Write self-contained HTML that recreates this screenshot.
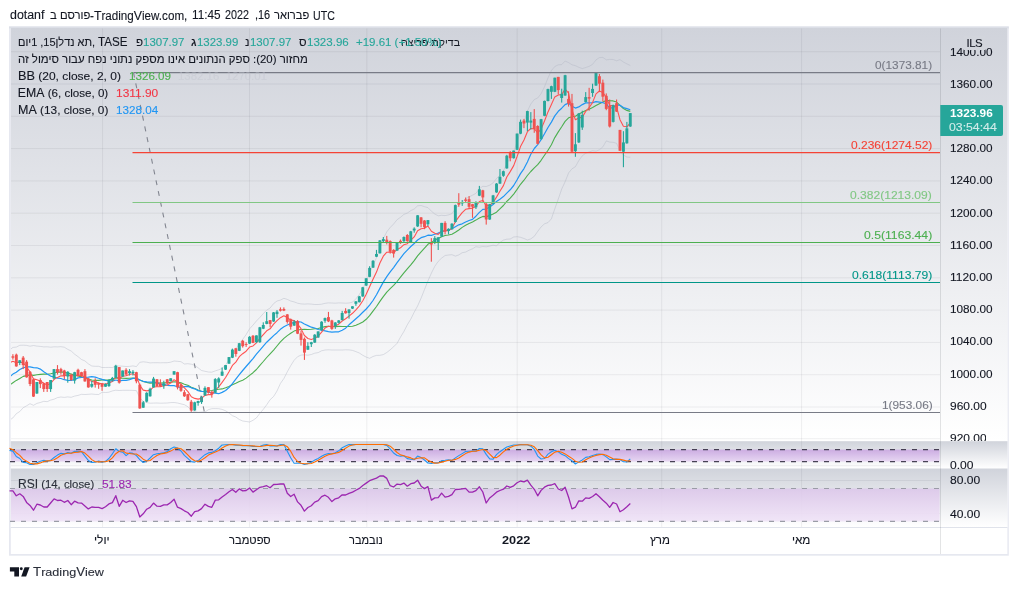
<!DOCTYPE html>
<html lang="he">
<head>
<meta charset="utf-8">
<title>TradingView chart</title>
<style>
html,body{margin:0;padding:0;background:#fff;}
.wrap{position:absolute;left:0;top:0;width:1018px;height:590px;will-change:opacity;}
body{width:1018px;height:590px;position:relative;overflow:hidden;font-family:"Liberation Sans","DejaVu Sans",sans-serif;color:#131722;}
svg{position:absolute;left:0;top:0;}
.t{position:absolute;white-space:nowrap;line-height:1;transform-origin:0 0;-webkit-text-stroke:0.12px currentColor;}
</style>
</head>
<body>
<svg width="1018" height="590" viewBox="0 0 1018 590">
<defs>
<linearGradient id="gm" x1="0" y1="0" x2="0" y2="1"><stop offset="0" stop-color="#d0d3db"/><stop offset="1" stop-color="#ffffff"/></linearGradient>
<linearGradient id="gs" x1="0" y1="0" x2="0" y2="1"><stop offset="0" stop-color="#d0d3db"/><stop offset="1" stop-color="#ffffff"/></linearGradient>
<linearGradient id="gp" x1="0" y1="0" x2="0" y2="1"><stop offset="0" stop-color="#c59be0" stop-opacity="0.75"/><stop offset="1" stop-color="#e3cdf1" stop-opacity="0.75"/></linearGradient>
<linearGradient id="gr" x1="0" y1="0" x2="0" y2="1"><stop offset="0" stop-color="#dcc6ea" stop-opacity="0.85"/><stop offset="1" stop-color="#f0e4f7" stop-opacity="0.95"/></linearGradient>
<clipPath id="cm"><rect x="11" y="28.5" width="929" height="412.5"/></clipPath>
</defs>
<!-- frame -->
<rect x="9" y="26.5" width="999.8" height="529.2" fill="#e6e8f0"/>
<rect x="9" y="26.5" width="999.8" height="2" fill="#dcdfe7"/>
<rect x="10.8" y="28" width="996.6" height="526" fill="#ffffff"/>
<!-- panes -->
<rect x="10.8" y="28" width="996.6" height="413.2" fill="url(#gm)"/>
<rect x="10.8" y="441.2" width="996.6" height="27.3" fill="url(#gs)"/>
<rect x="10.8" y="468.5" width="996.6" height="58.7" fill="url(#gs)"/>
<rect x="10.8" y="527" width="996.6" height="1" fill="#e0e3eb"/>
<rect x="940" y="28.5" width="1" height="525.5" fill="#2a2e39" fill-opacity="0.13"/>
<!-- grid -->
<g stroke="#2a2e39" stroke-opacity="0.07" stroke-width="1">
<path d="M102.6 28.5V527M249.5 28.5V527M366.8 28.5V527M517.2 28.5V527M661.7 28.5V527M801.6 28.5V527"/>
<path d="M11 51.7H940M11 84H940M11 116.3H940M11 148.6H940M11 180.9H940M11 213.2H940M11 245.5H940M11 277.8H940M11 310.1H940M11 342.4H940M11 374.7H940M11 407H940M11 438.7H940"/>
<path d="M11 480.5H940M11 513.5H940M11 465.7H940"/>
</g>
<!-- main pane content -->
<g clip-path="url(#cm)">
<polyline points="9.5,350.2 12.9,347.4 16.3,347.1 19.8,345.3 23.2,345.2 26.6,345.4 30.0,346.2 33.5,345.5 36.9,346.1 40.3,346.4 43.8,346.9 47.2,346.8 50.6,347.2 54.1,346.8 57.5,346.9 60.9,346.7 64.3,347.2 67.8,349.4 71.2,351.0 74.6,354.2 78.1,356.7 81.5,359.5 84.9,360.9 88.3,363.8 91.8,366.0 95.2,366.3 98.6,366.3 102.1,367.5 105.5,367.5 108.9,367.4 112.4,367.6 115.8,366.0 119.2,366.0 122.7,366.2 126.1,366.5 129.5,366.4 132.9,365.9 136.4,366.6 139.8,362.3 143.2,361.8 146.7,362.2 150.1,362.9 153.5,362.7 157.0,362.7 160.4,362.8 163.8,362.7 167.2,362.7 170.7,362.2 174.1,361.0 177.5,361.3 181.0,361.7 184.4,364.0 187.8,363.7 191.3,364.2 194.7,365.4 198.1,367.8 201.5,370.5 205.0,371.3 208.4,372.0 211.8,372.2 215.3,370.9 218.7,369.8 222.1,368.4 225.6,364.9 229.0,359.8 232.4,353.7 235.8,349.4 239.3,343.4 242.7,339.4 246.1,334.6 249.6,328.8 253.0,325.1 256.4,321.0 259.9,317.4 263.3,313.6 266.7,310.1 270.1,308.0 273.6,303.6 277.0,301.0 280.4,300.1 283.9,298.3 287.3,299.4 290.7,301.0 294.1,301.9 297.6,303.2 301.0,303.9 304.4,304.1 307.9,303.9 311.3,304.1 314.7,304.5 318.2,304.5 321.6,304.2 325.0,303.3 328.4,302.9 331.9,303.0 335.3,303.2 338.7,302.9 342.2,303.0 345.6,303.2 349.0,303.0 352.5,302.2 355.9,298.8 359.3,294.5 362.8,288.7 366.2,281.4 369.6,273.0 373.0,265.6 376.5,257.6 379.9,247.5 383.3,238.6 386.8,231.8 390.2,227.5 393.6,224.0 397.1,219.7 400.5,217.3 403.9,214.4 407.3,213.1 410.8,210.6 414.2,209.0 417.6,205.8 421.1,205.5 424.5,206.7 427.9,207.6 431.4,211.2 434.8,214.0 438.2,215.8 441.6,215.3 445.1,215.6 448.5,214.9 451.9,213.7 455.4,208.6 458.8,205.1 462.2,202.2 465.6,198.6 469.1,196.9 472.5,195.2 475.9,193.4 479.4,188.7 482.8,186.3 486.2,186.5 489.7,185.2 493.1,182.9 496.5,178.5 499.9,175.2 503.4,170.9 506.8,163.6 510.2,157.4 513.7,151.3 517.1,142.1 520.5,131.3 524.0,121.9 527.4,111.1 530.8,104.0 534.3,99.5 537.7,98.0 541.1,93.7 544.5,86.8 548.0,77.9 551.4,70.6 554.8,66.5 558.3,64.8 561.7,64.6 565.1,61.0 568.6,62.6 572.0,64.8 575.4,65.7 578.8,67.3 582.3,68.6 585.7,67.5 589.1,66.4 592.6,64.3 596.0,59.9 599.4,57.6 602.9,57.4 606.3,59.8 609.7,59.4 613.1,59.5 616.6,60.8 620.0,59.6 623.4,62.0 626.9,63.9 630.3,65.5" fill="none" stroke="#b4b8c6" stroke-width="1" stroke-opacity="0.45"/>
<polyline points="9.5,420.2 12.9,417.9 16.3,413.7 19.8,411.5 23.2,407.7 26.6,405.8 30.0,403.7 33.5,405.3 36.9,403.4 40.3,402.5 43.8,401.3 47.2,401.7 50.6,400.1 54.1,399.2 57.5,397.6 60.9,397.0 64.3,397.4 67.8,396.9 71.2,397.3 74.6,396.1 78.1,395.4 81.5,394.3 84.9,394.5 88.3,394.3 91.8,394.0 95.2,394.4 98.6,394.5 102.1,392.3 105.5,392.5 108.9,392.2 112.4,390.9 115.8,390.2 119.2,390.5 122.7,390.3 126.1,390.3 129.5,390.3 132.9,390.4 136.4,390.6 139.8,397.7 143.2,401.3 146.7,402.6 150.1,403.2 153.5,403.1 157.0,403.0 160.4,403.2 163.8,403.1 167.2,403.0 170.7,402.6 174.1,402.5 177.5,403.0 181.0,403.9 184.4,404.7 187.8,406.7 191.3,410.2 194.7,411.7 198.1,412.4 201.5,412.1 205.0,412.0 208.4,409.7 211.8,408.7 215.3,408.6 218.7,408.7 222.1,409.4 225.6,410.8 229.0,413.0 232.4,415.7 235.8,417.0 239.3,419.5 242.7,421.0 246.1,421.5 249.6,422.0 253.0,420.3 256.4,417.9 259.9,413.3 263.3,409.3 266.7,404.8 270.1,399.7 273.6,396.5 277.0,391.0 280.4,383.5 283.9,378.5 287.3,371.8 290.7,365.7 294.1,360.3 297.6,356.7 301.0,355.1 304.4,354.8 307.9,355.2 311.3,354.5 314.7,353.2 318.2,352.6 321.6,350.8 325.0,350.0 328.4,349.8 331.9,350.0 335.3,350.0 338.7,350.0 342.2,350.0 345.6,349.8 349.0,349.9 352.5,350.4 355.9,351.6 359.3,353.0 362.8,355.3 366.2,357.1 369.6,358.3 373.0,356.5 376.5,355.4 379.9,355.3 383.3,354.6 386.8,352.5 390.2,349.8 393.6,346.8 397.1,343.3 400.5,337.1 403.9,331.5 407.3,324.8 410.8,319.1 414.2,312.2 417.6,306.0 421.1,298.1 424.5,289.5 427.9,281.0 431.4,273.1 434.8,266.3 438.2,261.4 441.6,258.1 445.1,255.5 448.5,255.0 451.9,254.7 455.4,256.1 458.8,254.9 462.2,252.7 465.6,252.1 469.1,250.2 472.5,248.8 475.9,246.7 479.4,247.2 482.8,246.5 486.2,246.8 489.7,246.1 493.1,245.2 496.5,245.9 499.9,242.5 503.4,240.1 506.8,239.2 510.2,239.0 513.7,237.0 517.1,236.7 520.5,237.3 524.0,238.5 527.4,240.0 530.8,238.9 534.3,236.3 537.7,231.4 541.1,226.9 544.5,223.8 548.0,222.6 551.4,218.8 554.8,208.8 558.3,199.0 561.7,189.1 565.1,181.8 568.6,172.9 572.0,168.8 575.4,166.7 578.8,160.6 582.3,155.8 585.7,153.2 589.1,152.0 592.6,150.7 596.0,151.2 599.4,149.8 602.9,146.8 606.3,140.9 609.7,142.1 613.1,142.3 616.6,143.3 620.0,151.0 623.4,155.1 626.9,157.0 630.3,157.3" fill="none" stroke="#b4b8c6" stroke-width="1" stroke-opacity="0.45"/>
<polyline points="9.5,385.2 12.9,382.7 16.3,380.4 19.8,378.4 23.2,376.4 26.6,375.6 30.0,374.9 33.5,375.4 36.9,374.7 40.3,374.4 43.8,374.1 47.2,374.2 50.6,373.7 54.1,373.0 57.5,372.2 60.9,371.9 64.3,372.3 67.8,373.1 71.2,374.1 74.6,375.1 78.1,376.0 81.5,376.9 84.9,377.7 88.3,379.0 91.8,380.0 95.2,380.4 98.6,380.4 102.1,379.9 105.5,380.0 108.9,379.8 112.4,379.2 115.8,378.1 119.2,378.2 122.7,378.3 126.1,378.4 129.5,378.3 132.9,378.1 136.4,378.6 139.8,380.0 143.2,381.5 146.7,382.4 150.1,383.1 153.5,382.9 157.0,382.9 160.4,383.0 163.8,382.9 167.2,382.8 170.7,382.4 174.1,381.8 177.5,382.1 181.0,382.8 184.4,384.3 187.8,385.2 191.3,387.2 194.7,388.6 198.1,390.1 201.5,391.3 205.0,391.6 208.4,390.8 211.8,390.5 215.3,389.8 218.7,389.2 222.1,388.9 225.6,387.8 229.0,386.4 232.4,384.7 235.8,383.2 239.3,381.5 242.7,380.2 246.1,378.1 249.6,375.4 253.0,372.7 256.4,369.5 259.9,365.3 263.3,361.5 266.7,357.5 270.1,353.8 273.6,350.1 277.0,346.0 280.4,341.8 283.9,338.4 287.3,335.6 290.7,333.3 294.1,331.1 297.6,330.0 301.0,329.5 304.4,329.4 307.9,329.5 311.3,329.3 314.7,328.8 318.2,328.6 321.6,327.5 325.0,326.6 328.4,326.3 331.9,326.5 335.3,326.6 338.7,326.4 342.2,326.5 345.6,326.5 349.0,326.5 352.5,326.3 355.9,325.2 359.3,323.7 362.8,322.0 366.2,319.3 369.6,315.7 373.0,311.1 376.5,306.5 379.9,301.4 383.3,296.6 386.8,292.1 390.2,288.6 393.6,285.4 397.1,281.5 400.5,277.2 403.9,272.9 407.3,268.9 410.8,264.9 414.2,260.6 417.6,255.9 421.1,251.8 424.5,248.1 427.9,244.3 431.4,242.1 434.8,240.1 438.2,238.6 441.6,236.7 445.1,235.5 448.5,235.0 451.9,234.2 455.4,232.3 458.8,230.0 462.2,227.4 465.6,225.3 469.1,223.5 472.5,222.0 475.9,220.1 479.4,218.0 482.8,216.4 486.2,216.6 489.7,215.6 493.1,214.0 496.5,212.2 499.9,208.8 503.4,205.5 506.8,201.4 510.2,198.2 513.7,194.1 517.1,189.4 520.5,184.3 524.0,180.2 527.4,175.5 530.8,171.5 534.3,167.9 537.7,164.7 541.1,160.3 544.5,155.3 548.0,150.3 551.4,144.7 554.8,137.6 558.3,131.9 561.7,126.8 565.1,121.4 568.6,117.8 572.0,116.8 575.4,116.2 578.8,114.0 582.3,112.2 585.7,110.4 589.1,109.2 592.6,107.5 596.0,105.6 599.4,103.7 602.9,102.1 606.3,100.4 609.7,100.7 613.1,100.9 616.6,102.1 620.0,105.3 623.4,108.5 626.9,110.4 630.3,111.4" fill="none" stroke="#4caf50" stroke-width="1.1" stroke-linejoin="round"/>
<polyline points="9.5,377.0 12.9,374.1 16.3,372.2 19.8,369.5 23.2,367.9 26.6,366.8 30.0,366.9 33.5,367.6 36.9,367.8 40.3,369.1 43.8,371.7 47.2,374.0 50.6,376.1 54.1,377.0 57.5,378.1 60.9,378.5 64.3,379.7 67.8,380.3 71.2,380.5 74.6,379.6 78.1,377.9 81.5,377.5 84.9,377.3 88.3,377.1 91.8,376.7 95.2,377.1 98.6,378.3 102.1,379.4 105.5,380.3 108.9,380.7 112.4,381.1 115.8,380.0 119.2,380.8 122.7,380.4 126.1,380.3 129.5,379.6 132.9,378.4 136.4,378.1 139.8,380.0 143.2,381.3 146.7,381.8 150.1,382.2 153.5,382.1 157.0,382.7 160.4,384.3 163.8,384.3 167.2,385.3 170.7,385.6 174.1,385.6 177.5,386.8 181.0,387.5 184.4,386.6 187.8,386.4 191.3,387.8 194.7,388.8 198.1,390.6 201.5,391.4 205.0,391.5 208.4,392.2 211.8,393.0 215.3,393.1 218.7,393.7 222.1,392.4 225.6,390.5 229.0,387.5 232.4,383.6 235.8,379.2 239.3,374.7 242.7,370.5 246.1,366.5 249.6,362.5 253.0,358.7 256.4,354.2 259.9,350.2 263.3,346.1 266.7,342.2 270.1,339.0 273.6,335.6 277.0,332.7 280.4,329.3 283.9,326.8 287.3,325.0 290.7,323.6 294.1,322.4 297.6,321.7 301.0,322.0 304.4,324.0 307.9,325.6 311.3,327.2 314.7,328.0 318.2,329.5 321.6,330.2 325.0,330.8 328.4,331.7 331.9,332.2 335.3,331.9 338.7,331.8 342.2,330.2 345.6,328.2 349.0,324.8 352.5,321.8 355.9,318.7 359.3,315.7 362.8,312.3 366.2,309.0 369.6,305.1 373.0,300.5 376.5,294.7 379.9,288.4 383.3,282.1 386.8,276.7 390.2,271.9 393.6,267.6 397.1,262.7 400.5,258.2 403.9,253.7 407.3,250.1 410.8,246.5 414.2,243.5 417.6,240.0 421.1,237.7 424.5,236.7 427.9,235.2 431.4,235.4 434.8,234.3 438.2,233.1 441.6,231.6 445.1,230.6 448.5,230.0 451.9,228.7 455.4,226.7 458.8,224.8 462.2,223.8 465.6,222.0 469.1,220.5 472.5,219.4 475.9,216.2 479.4,212.4 482.8,209.4 486.2,209.1 489.7,207.0 493.1,204.5 496.5,201.4 499.9,199.2 503.4,196.6 506.8,193.1 510.2,189.8 513.7,185.5 517.1,179.8 520.5,173.6 524.0,168.6 527.4,161.9 530.8,154.3 534.3,148.5 537.7,144.6 541.1,139.6 544.5,133.8 548.0,127.5 551.4,122.1 554.8,115.9 558.3,111.3 561.7,108.2 565.1,104.6 568.6,103.1 572.0,106.2 575.4,108.1 578.8,106.9 582.3,104.6 585.7,102.9 589.1,102.8 592.6,102.7 596.0,101.7 599.4,102.2 602.9,102.7 606.3,103.8 609.7,107.8 613.1,107.9 616.6,104.8 620.0,105.3 623.4,107.6 626.9,108.6 630.3,109.8" fill="none" stroke="#2196f3" stroke-width="1.2" stroke-linejoin="round"/>
<polyline points="9.5,362.7 12.9,361.2 16.3,362.7 19.8,362.0 23.2,362.9 26.6,367.0 30.0,371.9 33.5,378.9 36.9,379.8 40.3,381.0 43.8,383.3 47.2,385.0 50.6,383.5 54.1,379.4 57.5,377.4 60.9,375.8 64.3,375.9 67.8,374.7 71.2,376.2 74.6,375.1 78.1,375.2 81.5,375.4 84.9,377.1 88.3,380.0 91.8,381.2 95.2,382.2 98.6,382.9 102.1,384.0 105.5,384.0 108.9,382.9 112.4,381.5 115.8,377.0 119.2,378.6 122.7,376.3 126.1,375.8 129.5,374.5 132.9,373.7 136.4,375.9 139.8,385.2 143.2,390.1 146.7,390.9 150.1,390.3 153.5,386.9 157.0,386.7 160.4,386.6 163.8,385.7 167.2,385.0 170.7,383.1 174.1,379.7 177.5,381.9 181.0,384.4 184.4,387.8 187.8,391.4 191.3,396.8 194.7,398.4 198.1,399.1 201.5,398.4 205.0,395.4 208.4,394.6 211.8,394.6 215.3,390.1 218.7,386.8 222.1,382.4 225.6,377.5 229.0,371.7 232.4,365.4 235.8,362.1 239.3,356.7 242.7,353.7 246.1,351.2 249.6,347.1 253.0,345.9 256.4,342.9 259.9,338.4 263.3,334.6 266.7,330.8 270.1,328.8 273.6,324.1 277.0,320.6 280.4,317.7 283.9,315.7 287.3,317.5 290.7,320.1 294.1,320.5 297.6,324.2 301.0,328.7 304.4,335.5 307.9,338.5 311.3,339.6 314.7,338.2 318.2,336.2 321.6,332.1 325.0,328.1 328.4,326.2 331.9,327.0 335.3,325.7 338.7,324.2 342.2,321.0 345.6,318.8 349.0,316.1 352.5,313.3 355.9,309.9 359.3,306.0 362.8,300.7 366.2,294.3 369.6,286.8 373.0,279.3 376.5,272.1 379.9,263.0 383.3,256.2 386.8,252.2 390.2,252.0 393.6,252.5 397.1,249.6 400.5,247.8 403.9,244.7 407.3,243.7 410.8,240.1 414.2,236.9 417.6,230.7 421.1,228.7 424.5,228.3 427.9,226.0 431.4,231.3 434.8,233.2 438.2,234.4 441.6,231.1 445.1,231.1 448.5,230.4 451.9,228.5 455.4,221.8 458.8,216.9 462.2,212.7 465.6,209.3 469.1,208.6 472.5,208.1 475.9,206.4 479.4,201.5 482.8,200.4 486.2,205.8 489.7,205.4 493.1,202.5 496.5,197.1 499.9,191.3 503.4,185.6 506.8,177.0 510.2,171.6 513.7,165.6 517.1,156.5 520.5,146.6 524.0,140.0 527.4,131.7 530.8,128.5 534.3,128.7 537.7,133.0 541.1,129.1 544.5,121.0 548.0,111.9 551.4,104.6 554.8,96.9 558.3,94.9 561.7,94.6 565.1,89.1 568.6,93.2 572.0,110.0 575.4,119.8 578.8,118.0 582.3,117.1 585.7,111.4 589.1,107.7 592.6,102.4 596.0,93.9 599.4,91.0 602.9,92.6 606.3,97.3 609.7,105.6 613.1,105.5 616.6,107.2 620.0,119.7 623.4,126.2 626.9,126.8 630.3,122.9" fill="none" stroke="#ff5252" stroke-width="1.1" stroke-linejoin="round"/>
<rect x="8.91" y="348.8" width="1.1" height="9.5" fill="#ef5350"/>
<rect x="8.01" y="352.9" width="2.9" height="4.7" fill="#ef5350"/>
<rect x="12.34" y="354.2" width="1.1" height="5.4" fill="#ef5350"/>
<rect x="11.44" y="356.3" width="2.9" height="1.4" fill="#ef5350"/>
<rect x="15.77" y="353.6" width="1.1" height="13.1" fill="#ef5350"/>
<rect x="14.87" y="354.6" width="2.9" height="11.8" fill="#ef5350"/>
<rect x="19.20" y="360.1" width="1.1" height="5.0" fill="#26a69a"/>
<rect x="18.30" y="360.3" width="2.9" height="2.7" fill="#26a69a"/>
<rect x="22.63" y="356.0" width="1.1" height="13.1" fill="#ef5350"/>
<rect x="21.73" y="357.6" width="2.9" height="7.5" fill="#ef5350"/>
<rect x="26.06" y="360.1" width="1.1" height="17.6" fill="#ef5350"/>
<rect x="25.16" y="361.7" width="2.9" height="15.6" fill="#ef5350"/>
<rect x="29.49" y="371.2" width="1.1" height="14.9" fill="#ef5350"/>
<rect x="28.59" y="371.8" width="2.9" height="12.2" fill="#ef5350"/>
<rect x="32.92" y="378.6" width="1.1" height="18.3" fill="#ef5350"/>
<rect x="32.02" y="379.3" width="2.9" height="17.3" fill="#ef5350"/>
<rect x="36.35" y="382.0" width="1.1" height="11.9" fill="#26a69a"/>
<rect x="35.45" y="382.0" width="2.9" height="11.5" fill="#26a69a"/>
<rect x="39.78" y="378.3" width="1.1" height="9.8" fill="#ef5350"/>
<rect x="38.88" y="380.0" width="2.9" height="4.1" fill="#ef5350"/>
<rect x="43.21" y="382.7" width="1.1" height="9.2" fill="#ef5350"/>
<rect x="42.31" y="383.4" width="2.9" height="5.7" fill="#ef5350"/>
<rect x="46.64" y="382.0" width="1.1" height="9.9" fill="#ef5350"/>
<rect x="45.74" y="382.0" width="2.9" height="7.0" fill="#ef5350"/>
<rect x="50.07" y="380.0" width="1.1" height="11.9" fill="#26a69a"/>
<rect x="49.17" y="380.0" width="2.9" height="9.1" fill="#26a69a"/>
<rect x="53.50" y="369.1" width="1.1" height="10.2" fill="#26a69a"/>
<rect x="52.60" y="369.1" width="2.9" height="9.5" fill="#26a69a"/>
<rect x="56.93" y="365.1" width="1.1" height="9.5" fill="#ef5350"/>
<rect x="56.03" y="369.1" width="2.9" height="3.4" fill="#ef5350"/>
<rect x="60.36" y="367.8" width="1.1" height="6.8" fill="#ef5350"/>
<rect x="59.46" y="369.1" width="2.9" height="2.7" fill="#ef5350"/>
<rect x="63.79" y="369.8" width="1.1" height="9.5" fill="#ef5350"/>
<rect x="62.89" y="370.5" width="2.9" height="5.4" fill="#ef5350"/>
<rect x="67.22" y="371.2" width="1.1" height="11.5" fill="#26a69a"/>
<rect x="66.32" y="371.8" width="2.9" height="4.7" fill="#26a69a"/>
<rect x="70.65" y="373.9" width="1.1" height="6.8" fill="#ef5350"/>
<rect x="69.75" y="374.6" width="2.9" height="5.4" fill="#ef5350"/>
<rect x="74.08" y="371.8" width="1.1" height="11.8" fill="#26a69a"/>
<rect x="73.18" y="372.2" width="2.9" height="8.4" fill="#26a69a"/>
<rect x="77.51" y="368.7" width="1.1" height="7.9" fill="#ef5350"/>
<rect x="76.61" y="369.8" width="2.9" height="5.7" fill="#ef5350"/>
<rect x="80.94" y="371.8" width="1.1" height="5.4" fill="#ef5350"/>
<rect x="80.04" y="372.2" width="2.9" height="3.7" fill="#ef5350"/>
<rect x="84.37" y="369.1" width="1.1" height="12.6" fill="#ef5350"/>
<rect x="83.47" y="371.2" width="2.9" height="10.2" fill="#ef5350"/>
<rect x="87.80" y="377.9" width="1.1" height="9.8" fill="#ef5350"/>
<rect x="86.90" y="378.6" width="2.9" height="8.8" fill="#ef5350"/>
<rect x="91.23" y="380.7" width="1.1" height="7.0" fill="#26a69a"/>
<rect x="90.33" y="384.0" width="2.9" height="2.7" fill="#26a69a"/>
<rect x="94.66" y="378.3" width="1.1" height="9.3" fill="#ef5350"/>
<rect x="93.76" y="380.7" width="2.9" height="4.1" fill="#ef5350"/>
<rect x="98.09" y="382.7" width="1.1" height="6.1" fill="#ef5350"/>
<rect x="97.19" y="383.1" width="2.9" height="1.6" fill="#ef5350"/>
<rect x="101.52" y="383.1" width="1.1" height="7.7" fill="#ef5350"/>
<rect x="100.62" y="383.4" width="2.9" height="3.4" fill="#ef5350"/>
<rect x="104.95" y="383.4" width="1.1" height="3.4" fill="#26a69a"/>
<rect x="104.05" y="384.0" width="2.9" height="2.7" fill="#26a69a"/>
<rect x="108.38" y="379.3" width="1.1" height="7.5" fill="#26a69a"/>
<rect x="107.48" y="380.0" width="2.9" height="6.1" fill="#26a69a"/>
<rect x="111.81" y="376.9" width="1.1" height="4.5" fill="#26a69a"/>
<rect x="110.91" y="377.9" width="2.9" height="2.7" fill="#26a69a"/>
<rect x="115.24" y="364.8" width="1.1" height="13.1" fill="#26a69a"/>
<rect x="114.34" y="365.7" width="2.9" height="12.2" fill="#26a69a"/>
<rect x="118.67" y="367.1" width="1.1" height="16.5" fill="#ef5350"/>
<rect x="117.77" y="367.1" width="2.9" height="15.6" fill="#ef5350"/>
<rect x="122.10" y="370.5" width="1.1" height="6.1" fill="#26a69a"/>
<rect x="121.20" y="370.5" width="2.9" height="6.1" fill="#26a69a"/>
<rect x="125.53" y="368.2" width="1.1" height="7.3" fill="#ef5350"/>
<rect x="124.63" y="369.8" width="2.9" height="4.7" fill="#ef5350"/>
<rect x="128.96" y="369.1" width="1.1" height="6.4" fill="#26a69a"/>
<rect x="128.06" y="371.2" width="2.9" height="2.0" fill="#26a69a"/>
<rect x="132.39" y="370.1" width="1.1" height="5.4" fill="#26a69a"/>
<rect x="131.49" y="371.8" width="2.9" height="1.4" fill="#26a69a"/>
<rect x="135.82" y="371.8" width="1.1" height="11.5" fill="#ef5350"/>
<rect x="134.92" y="372.2" width="2.9" height="9.1" fill="#ef5350"/>
<rect x="139.25" y="383.6" width="1.1" height="25.2" fill="#ef5350"/>
<rect x="138.35" y="384.7" width="2.9" height="23.7" fill="#ef5350"/>
<rect x="142.68" y="401.0" width="1.1" height="6.8" fill="#26a69a"/>
<rect x="141.78" y="402.3" width="2.9" height="5.4" fill="#26a69a"/>
<rect x="146.11" y="392.2" width="1.1" height="10.2" fill="#26a69a"/>
<rect x="145.21" y="392.8" width="2.9" height="8.8" fill="#26a69a"/>
<rect x="149.54" y="387.7" width="1.1" height="8.9" fill="#26a69a"/>
<rect x="148.64" y="388.8" width="2.9" height="7.5" fill="#26a69a"/>
<rect x="152.97" y="376.9" width="1.1" height="10.8" fill="#26a69a"/>
<rect x="152.07" y="378.6" width="2.9" height="8.8" fill="#26a69a"/>
<rect x="156.40" y="379.0" width="1.1" height="7.7" fill="#ef5350"/>
<rect x="155.50" y="379.3" width="2.9" height="6.8" fill="#ef5350"/>
<rect x="159.83" y="379.3" width="1.1" height="7.5" fill="#ef5350"/>
<rect x="158.93" y="383.4" width="2.9" height="3.0" fill="#ef5350"/>
<rect x="163.26" y="380.7" width="1.1" height="8.1" fill="#26a69a"/>
<rect x="162.36" y="383.4" width="2.9" height="2.7" fill="#26a69a"/>
<rect x="166.69" y="379.0" width="1.1" height="5.0" fill="#ef5350"/>
<rect x="165.79" y="379.3" width="2.9" height="4.1" fill="#ef5350"/>
<rect x="170.12" y="378.3" width="1.1" height="3.0" fill="#26a69a"/>
<rect x="169.22" y="378.3" width="2.9" height="3.0" fill="#26a69a"/>
<rect x="173.55" y="371.2" width="1.1" height="3.4" fill="#26a69a"/>
<rect x="172.65" y="371.2" width="2.9" height="3.4" fill="#26a69a"/>
<rect x="176.98" y="371.8" width="1.1" height="17.6" fill="#ef5350"/>
<rect x="176.08" y="372.2" width="2.9" height="15.2" fill="#ef5350"/>
<rect x="180.41" y="383.1" width="1.1" height="8.7" fill="#ef5350"/>
<rect x="179.51" y="384.7" width="2.9" height="6.1" fill="#ef5350"/>
<rect x="183.84" y="390.1" width="1.1" height="6.8" fill="#ef5350"/>
<rect x="182.94" y="392.2" width="2.9" height="4.1" fill="#ef5350"/>
<rect x="187.27" y="393.9" width="1.1" height="6.8" fill="#ef5350"/>
<rect x="186.37" y="394.2" width="2.9" height="6.1" fill="#ef5350"/>
<rect x="190.70" y="399.9" width="1.1" height="11.9" fill="#ef5350"/>
<rect x="189.80" y="401.7" width="2.9" height="8.8" fill="#ef5350"/>
<rect x="194.13" y="401.7" width="1.1" height="9.1" fill="#26a69a"/>
<rect x="193.23" y="402.3" width="2.9" height="8.1" fill="#26a69a"/>
<rect x="197.56" y="400.7" width="1.1" height="5.0" fill="#26a69a"/>
<rect x="196.66" y="401.0" width="2.9" height="2.0" fill="#26a69a"/>
<rect x="200.99" y="396.0" width="1.1" height="7.9" fill="#26a69a"/>
<rect x="200.09" y="396.7" width="2.9" height="5.4" fill="#26a69a"/>
<rect x="204.42" y="386.3" width="1.1" height="9.5" fill="#26a69a"/>
<rect x="203.52" y="387.9" width="2.9" height="7.5" fill="#26a69a"/>
<rect x="207.85" y="387.2" width="1.1" height="6.4" fill="#ef5350"/>
<rect x="206.95" y="387.2" width="2.9" height="5.4" fill="#ef5350"/>
<rect x="211.28" y="390.6" width="1.1" height="7.1" fill="#ef5350"/>
<rect x="210.38" y="391.7" width="2.9" height="2.7" fill="#ef5350"/>
<rect x="214.71" y="378.1" width="1.1" height="14.9" fill="#26a69a"/>
<rect x="213.81" y="379.1" width="2.9" height="13.6" fill="#26a69a"/>
<rect x="218.14" y="377.3" width="1.1" height="10.6" fill="#26a69a"/>
<rect x="217.24" y="378.4" width="2.9" height="4.1" fill="#26a69a"/>
<rect x="221.57" y="367.5" width="1.1" height="8.4" fill="#26a69a"/>
<rect x="220.67" y="371.6" width="2.9" height="4.1" fill="#26a69a"/>
<rect x="225.00" y="365.1" width="1.1" height="4.9" fill="#26a69a"/>
<rect x="224.10" y="365.1" width="2.9" height="4.5" fill="#26a69a"/>
<rect x="228.43" y="357.1" width="1.1" height="6.6" fill="#26a69a"/>
<rect x="227.53" y="357.1" width="2.9" height="6.6" fill="#26a69a"/>
<rect x="231.86" y="348.6" width="1.1" height="9.5" fill="#26a69a"/>
<rect x="230.96" y="349.6" width="2.9" height="8.1" fill="#26a69a"/>
<rect x="235.29" y="347.9" width="1.1" height="8.8" fill="#ef5350"/>
<rect x="234.39" y="348.3" width="2.9" height="5.7" fill="#ef5350"/>
<rect x="238.72" y="343.2" width="1.1" height="7.9" fill="#26a69a"/>
<rect x="237.82" y="343.2" width="2.9" height="7.6" fill="#26a69a"/>
<rect x="242.15" y="339.9" width="1.1" height="7.7" fill="#ef5350"/>
<rect x="241.25" y="340.8" width="2.9" height="5.4" fill="#ef5350"/>
<rect x="245.58" y="342.2" width="1.1" height="4.7" fill="#ef5350"/>
<rect x="244.68" y="344.0" width="2.9" height="0.9" fill="#ef5350"/>
<rect x="249.01" y="336.1" width="1.1" height="7.9" fill="#26a69a"/>
<rect x="248.11" y="336.8" width="2.9" height="6.8" fill="#26a69a"/>
<rect x="252.44" y="335.0" width="1.1" height="8.1" fill="#ef5350"/>
<rect x="251.54" y="335.8" width="2.9" height="7.1" fill="#ef5350"/>
<rect x="255.87" y="335.4" width="1.1" height="7.5" fill="#26a69a"/>
<rect x="254.97" y="335.4" width="2.9" height="6.8" fill="#26a69a"/>
<rect x="259.30" y="326.9" width="1.1" height="16.0" fill="#26a69a"/>
<rect x="258.40" y="327.3" width="2.9" height="14.9" fill="#26a69a"/>
<rect x="262.73" y="322.3" width="1.1" height="6.8" fill="#26a69a"/>
<rect x="261.83" y="325.0" width="2.9" height="3.7" fill="#26a69a"/>
<rect x="266.16" y="312.0" width="1.1" height="12.2" fill="#26a69a"/>
<rect x="265.26" y="321.2" width="2.9" height="2.7" fill="#26a69a"/>
<rect x="269.59" y="320.1" width="1.1" height="7.2" fill="#ef5350"/>
<rect x="268.69" y="320.1" width="2.9" height="3.8" fill="#ef5350"/>
<rect x="273.02" y="312.0" width="1.1" height="9.9" fill="#26a69a"/>
<rect x="272.12" y="312.4" width="2.9" height="9.1" fill="#26a69a"/>
<rect x="276.45" y="310.1" width="1.1" height="7.7" fill="#26a69a"/>
<rect x="275.55" y="311.7" width="2.9" height="2.4" fill="#26a69a"/>
<rect x="279.88" y="307.4" width="1.1" height="4.1" fill="#ef5350"/>
<rect x="278.98" y="309.3" width="2.9" height="1.4" fill="#ef5350"/>
<rect x="283.31" y="307.4" width="1.1" height="3.7" fill="#ef5350"/>
<rect x="282.41" y="309.0" width="2.9" height="1.6" fill="#ef5350"/>
<rect x="286.74" y="314.1" width="1.1" height="9.5" fill="#ef5350"/>
<rect x="285.84" y="314.4" width="2.9" height="7.5" fill="#ef5350"/>
<rect x="290.17" y="318.5" width="1.1" height="11.1" fill="#ef5350"/>
<rect x="289.27" y="319.2" width="2.9" height="7.5" fill="#ef5350"/>
<rect x="293.60" y="320.1" width="1.1" height="5.8" fill="#26a69a"/>
<rect x="292.70" y="321.5" width="2.9" height="4.1" fill="#26a69a"/>
<rect x="297.03" y="320.1" width="1.1" height="14.0" fill="#ef5350"/>
<rect x="296.13" y="321.2" width="2.9" height="12.5" fill="#ef5350"/>
<rect x="300.46" y="330.7" width="1.1" height="14.9" fill="#ef5350"/>
<rect x="299.56" y="333.4" width="2.9" height="6.5" fill="#ef5350"/>
<rect x="303.89" y="337.5" width="1.1" height="22.4" fill="#ef5350"/>
<rect x="302.99" y="338.8" width="2.9" height="13.8" fill="#ef5350"/>
<rect x="307.32" y="342.2" width="1.1" height="7.7" fill="#26a69a"/>
<rect x="306.42" y="345.9" width="2.9" height="3.8" fill="#26a69a"/>
<rect x="310.75" y="341.8" width="1.1" height="5.2" fill="#26a69a"/>
<rect x="309.85" y="342.2" width="2.9" height="2.0" fill="#26a69a"/>
<rect x="314.18" y="334.1" width="1.1" height="8.8" fill="#26a69a"/>
<rect x="313.28" y="334.7" width="2.9" height="7.9" fill="#26a69a"/>
<rect x="317.61" y="331.4" width="1.1" height="6.4" fill="#26a69a"/>
<rect x="316.71" y="331.4" width="2.9" height="6.1" fill="#26a69a"/>
<rect x="321.04" y="321.2" width="1.1" height="9.5" fill="#26a69a"/>
<rect x="320.14" y="321.7" width="2.9" height="8.5" fill="#26a69a"/>
<rect x="324.47" y="317.6" width="1.1" height="5.2" fill="#26a69a"/>
<rect x="323.57" y="318.1" width="2.9" height="2.7" fill="#26a69a"/>
<rect x="327.90" y="311.9" width="1.1" height="10.2" fill="#ef5350"/>
<rect x="327.00" y="317.1" width="2.9" height="4.3" fill="#ef5350"/>
<rect x="331.33" y="319.8" width="1.1" height="10.0" fill="#ef5350"/>
<rect x="330.43" y="320.4" width="2.9" height="8.5" fill="#ef5350"/>
<rect x="334.76" y="322.1" width="1.1" height="6.8" fill="#26a69a"/>
<rect x="333.86" y="322.5" width="2.9" height="3.7" fill="#26a69a"/>
<rect x="338.19" y="320.1" width="1.1" height="3.4" fill="#26a69a"/>
<rect x="337.29" y="320.4" width="2.9" height="2.4" fill="#26a69a"/>
<rect x="341.62" y="310.9" width="1.1" height="9.5" fill="#26a69a"/>
<rect x="340.72" y="313.0" width="2.9" height="7.1" fill="#26a69a"/>
<rect x="345.05" y="308.2" width="1.1" height="5.4" fill="#ef5350"/>
<rect x="344.15" y="310.9" width="2.9" height="2.4" fill="#ef5350"/>
<rect x="348.48" y="309.2" width="1.1" height="9.5" fill="#26a69a"/>
<rect x="347.58" y="309.5" width="2.9" height="3.5" fill="#26a69a"/>
<rect x="351.91" y="306.3" width="1.1" height="2.7" fill="#26a69a"/>
<rect x="351.01" y="306.3" width="2.9" height="2.3" fill="#26a69a"/>
<rect x="355.34" y="301.1" width="1.1" height="4.7" fill="#26a69a"/>
<rect x="354.44" y="301.4" width="2.9" height="2.4" fill="#26a69a"/>
<rect x="358.77" y="295.9" width="1.1" height="6.5" fill="#26a69a"/>
<rect x="357.87" y="296.4" width="2.9" height="5.8" fill="#26a69a"/>
<rect x="362.20" y="286.9" width="1.1" height="9.9" fill="#26a69a"/>
<rect x="361.30" y="287.3" width="2.9" height="9.1" fill="#26a69a"/>
<rect x="365.63" y="278.1" width="1.1" height="7.9" fill="#26a69a"/>
<rect x="364.73" y="278.3" width="2.9" height="7.2" fill="#26a69a"/>
<rect x="369.06" y="266.2" width="1.1" height="11.0" fill="#26a69a"/>
<rect x="368.16" y="267.9" width="2.9" height="8.9" fill="#26a69a"/>
<rect x="372.49" y="260.1" width="1.1" height="7.9" fill="#26a69a"/>
<rect x="371.59" y="260.8" width="2.9" height="6.8" fill="#26a69a"/>
<rect x="375.92" y="249.9" width="1.1" height="7.2" fill="#26a69a"/>
<rect x="375.02" y="254.0" width="2.9" height="2.7" fill="#26a69a"/>
<rect x="379.35" y="240.0" width="1.1" height="13.6" fill="#26a69a"/>
<rect x="378.45" y="240.4" width="2.9" height="12.9" fill="#26a69a"/>
<rect x="382.78" y="237.0" width="1.1" height="5.2" fill="#26a69a"/>
<rect x="381.88" y="239.1" width="2.9" height="2.0" fill="#26a69a"/>
<rect x="386.21" y="235.9" width="1.1" height="8.5" fill="#ef5350"/>
<rect x="385.31" y="239.7" width="2.9" height="2.4" fill="#ef5350"/>
<rect x="389.64" y="240.4" width="1.1" height="13.2" fill="#ef5350"/>
<rect x="388.74" y="241.1" width="2.9" height="10.6" fill="#ef5350"/>
<rect x="393.07" y="249.2" width="1.1" height="8.4" fill="#ef5350"/>
<rect x="392.17" y="249.9" width="2.9" height="3.7" fill="#ef5350"/>
<rect x="396.50" y="242.2" width="1.1" height="8.7" fill="#26a69a"/>
<rect x="395.60" y="242.5" width="2.9" height="8.1" fill="#26a69a"/>
<rect x="399.93" y="239.5" width="1.1" height="4.3" fill="#ef5350"/>
<rect x="399.03" y="240.8" width="2.9" height="2.3" fill="#ef5350"/>
<rect x="403.36" y="236.4" width="1.1" height="5.8" fill="#26a69a"/>
<rect x="402.46" y="237.0" width="2.9" height="4.1" fill="#26a69a"/>
<rect x="406.79" y="234.1" width="1.1" height="7.7" fill="#ef5350"/>
<rect x="405.89" y="235.0" width="2.9" height="6.1" fill="#ef5350"/>
<rect x="410.22" y="230.9" width="1.1" height="11.8" fill="#26a69a"/>
<rect x="409.32" y="231.3" width="2.9" height="11.1" fill="#26a69a"/>
<rect x="413.65" y="227.3" width="1.1" height="5.4" fill="#26a69a"/>
<rect x="412.75" y="228.6" width="2.9" height="1.9" fill="#26a69a"/>
<rect x="417.08" y="215.1" width="1.1" height="11.8" fill="#26a69a"/>
<rect x="416.18" y="215.3" width="2.9" height="11.1" fill="#26a69a"/>
<rect x="420.51" y="217.0" width="1.1" height="10.3" fill="#ef5350"/>
<rect x="419.61" y="217.4" width="2.9" height="6.4" fill="#ef5350"/>
<rect x="423.94" y="220.1" width="1.1" height="9.1" fill="#ef5350"/>
<rect x="423.04" y="220.5" width="2.9" height="6.8" fill="#ef5350"/>
<rect x="427.37" y="220.1" width="1.1" height="5.8" fill="#26a69a"/>
<rect x="426.47" y="220.1" width="2.9" height="4.1" fill="#26a69a"/>
<rect x="430.80" y="238.1" width="1.1" height="23.6" fill="#ef5350"/>
<rect x="429.90" y="242.5" width="2.9" height="2.0" fill="#ef5350"/>
<rect x="434.23" y="236.1" width="1.1" height="8.0" fill="#26a69a"/>
<rect x="433.33" y="238.1" width="2.9" height="4.7" fill="#26a69a"/>
<rect x="437.66" y="237.3" width="1.1" height="12.7" fill="#26a69a"/>
<rect x="436.76" y="237.3" width="2.9" height="5.6" fill="#26a69a"/>
<rect x="441.09" y="222.9" width="1.1" height="13.9" fill="#26a69a"/>
<rect x="440.19" y="222.9" width="2.9" height="13.6" fill="#26a69a"/>
<rect x="444.52" y="221.2" width="1.1" height="13.2" fill="#ef5350"/>
<rect x="443.62" y="222.9" width="2.9" height="8.1" fill="#ef5350"/>
<rect x="447.95" y="228.3" width="1.1" height="6.1" fill="#26a69a"/>
<rect x="447.05" y="228.8" width="2.9" height="2.2" fill="#26a69a"/>
<rect x="451.38" y="223.2" width="1.1" height="6.4" fill="#26a69a"/>
<rect x="450.48" y="223.7" width="2.9" height="5.6" fill="#26a69a"/>
<rect x="454.81" y="204.6" width="1.1" height="18.0" fill="#26a69a"/>
<rect x="453.91" y="205.1" width="2.9" height="16.9" fill="#26a69a"/>
<rect x="458.24" y="193.2" width="1.1" height="13.6" fill="#ef5350"/>
<rect x="457.34" y="202.2" width="2.9" height="2.4" fill="#ef5350"/>
<rect x="461.67" y="200.0" width="1.1" height="5.9" fill="#26a69a"/>
<rect x="460.77" y="202.2" width="2.9" height="1.2" fill="#26a69a"/>
<rect x="465.10" y="197.5" width="1.1" height="5.4" fill="#ef5350"/>
<rect x="464.20" y="199.5" width="2.9" height="1.4" fill="#ef5350"/>
<rect x="468.53" y="196.1" width="1.1" height="12.4" fill="#ef5350"/>
<rect x="467.63" y="199.2" width="2.9" height="7.6" fill="#ef5350"/>
<rect x="471.96" y="203.9" width="1.1" height="13.9" fill="#ef5350"/>
<rect x="471.06" y="204.2" width="2.9" height="2.5" fill="#ef5350"/>
<rect x="475.39" y="201.2" width="1.1" height="7.8" fill="#26a69a"/>
<rect x="474.49" y="202.2" width="2.9" height="5.1" fill="#26a69a"/>
<rect x="478.82" y="185.9" width="1.1" height="10.2" fill="#26a69a"/>
<rect x="477.92" y="189.3" width="2.9" height="6.4" fill="#26a69a"/>
<rect x="482.25" y="189.8" width="1.1" height="11.9" fill="#ef5350"/>
<rect x="481.35" y="190.3" width="2.9" height="7.1" fill="#ef5350"/>
<rect x="485.68" y="202.9" width="1.1" height="21.7" fill="#ef5350"/>
<rect x="484.78" y="203.9" width="2.9" height="15.6" fill="#ef5350"/>
<rect x="489.11" y="203.9" width="1.1" height="15.9" fill="#26a69a"/>
<rect x="488.21" y="204.2" width="2.9" height="15.3" fill="#26a69a"/>
<rect x="492.54" y="194.9" width="1.1" height="9.3" fill="#26a69a"/>
<rect x="491.64" y="195.4" width="2.9" height="8.5" fill="#26a69a"/>
<rect x="495.97" y="183.1" width="1.1" height="9.7" fill="#26a69a"/>
<rect x="495.07" y="183.6" width="2.9" height="8.8" fill="#26a69a"/>
<rect x="499.40" y="169.0" width="1.1" height="14.9" fill="#26a69a"/>
<rect x="498.50" y="176.8" width="2.9" height="6.8" fill="#26a69a"/>
<rect x="502.83" y="170.7" width="1.1" height="6.1" fill="#26a69a"/>
<rect x="501.93" y="171.2" width="2.9" height="4.6" fill="#26a69a"/>
<rect x="506.26" y="154.8" width="1.1" height="13.9" fill="#26a69a"/>
<rect x="505.36" y="155.7" width="2.9" height="12.7" fill="#26a69a"/>
<rect x="509.69" y="151.1" width="1.1" height="10.2" fill="#ef5350"/>
<rect x="508.79" y="152.8" width="2.9" height="5.4" fill="#ef5350"/>
<rect x="513.12" y="150.6" width="1.1" height="8.0" fill="#26a69a"/>
<rect x="512.22" y="150.6" width="2.9" height="7.6" fill="#26a69a"/>
<rect x="516.55" y="133.6" width="1.1" height="16.4" fill="#26a69a"/>
<rect x="515.65" y="133.6" width="2.9" height="16.1" fill="#26a69a"/>
<rect x="519.98" y="119.6" width="1.1" height="14.6" fill="#26a69a"/>
<rect x="519.08" y="121.8" width="2.9" height="11.9" fill="#26a69a"/>
<rect x="523.41" y="118.9" width="1.1" height="9.2" fill="#ef5350"/>
<rect x="522.51" y="120.6" width="2.9" height="2.9" fill="#ef5350"/>
<rect x="526.84" y="110.8" width="1.1" height="20.3" fill="#26a69a"/>
<rect x="525.94" y="111.1" width="2.9" height="11.5" fill="#26a69a"/>
<rect x="530.27" y="112.1" width="1.1" height="17.3" fill="#26a69a"/>
<rect x="529.37" y="120.6" width="2.9" height="2.0" fill="#26a69a"/>
<rect x="533.70" y="109.1" width="1.1" height="23.7" fill="#ef5350"/>
<rect x="532.80" y="118.9" width="2.9" height="10.2" fill="#ef5350"/>
<rect x="537.13" y="125.2" width="1.1" height="19.2" fill="#ef5350"/>
<rect x="536.23" y="126.0" width="2.9" height="17.8" fill="#ef5350"/>
<rect x="540.56" y="118.9" width="1.1" height="20.7" fill="#26a69a"/>
<rect x="539.66" y="119.2" width="2.9" height="20.0" fill="#26a69a"/>
<rect x="543.99" y="100.6" width="1.1" height="15.6" fill="#26a69a"/>
<rect x="543.09" y="100.9" width="2.9" height="14.9" fill="#26a69a"/>
<rect x="547.42" y="88.7" width="1.1" height="12.7" fill="#26a69a"/>
<rect x="546.52" y="89.1" width="2.9" height="11.9" fill="#26a69a"/>
<rect x="550.85" y="85.7" width="1.1" height="13.2" fill="#26a69a"/>
<rect x="549.95" y="86.2" width="2.9" height="5.6" fill="#26a69a"/>
<rect x="554.28" y="77.7" width="1.1" height="14.4" fill="#26a69a"/>
<rect x="553.38" y="77.7" width="2.9" height="14.1" fill="#26a69a"/>
<rect x="557.71" y="76.9" width="1.1" height="17.3" fill="#ef5350"/>
<rect x="556.81" y="76.9" width="2.9" height="13.2" fill="#ef5350"/>
<rect x="561.14" y="88.7" width="1.1" height="13.9" fill="#26a69a"/>
<rect x="560.24" y="93.8" width="2.9" height="4.2" fill="#26a69a"/>
<rect x="564.57" y="74.8" width="1.1" height="21.0" fill="#26a69a"/>
<rect x="563.67" y="75.2" width="2.9" height="20.3" fill="#26a69a"/>
<rect x="568.00" y="91.3" width="1.1" height="15.3" fill="#ef5350"/>
<rect x="567.10" y="98.9" width="2.9" height="4.7" fill="#ef5350"/>
<rect x="571.43" y="93.9" width="1.1" height="58.4" fill="#ef5350"/>
<rect x="570.53" y="103.2" width="2.9" height="48.5" fill="#ef5350"/>
<rect x="574.86" y="133.1" width="1.1" height="23.7" fill="#26a69a"/>
<rect x="573.96" y="144.3" width="2.9" height="6.9" fill="#26a69a"/>
<rect x="578.29" y="113.1" width="1.1" height="29.9" fill="#26a69a"/>
<rect x="577.39" y="113.5" width="2.9" height="28.9" fill="#26a69a"/>
<rect x="581.72" y="110.7" width="1.1" height="19.2" fill="#26a69a"/>
<rect x="580.82" y="115.0" width="2.9" height="12.5" fill="#26a69a"/>
<rect x="585.15" y="92.1" width="1.1" height="10.3" fill="#26a69a"/>
<rect x="584.25" y="97.1" width="2.9" height="4.9" fill="#26a69a"/>
<rect x="588.58" y="87.8" width="1.1" height="22.9" fill="#ef5350"/>
<rect x="587.68" y="97.1" width="2.9" height="1.5" fill="#ef5350"/>
<rect x="592.01" y="83.7" width="1.1" height="13.1" fill="#26a69a"/>
<rect x="591.11" y="88.9" width="2.9" height="4.1" fill="#26a69a"/>
<rect x="595.44" y="72.8" width="1.1" height="13.1" fill="#26a69a"/>
<rect x="594.54" y="72.8" width="2.9" height="12.7" fill="#26a69a"/>
<rect x="598.87" y="74.0" width="1.1" height="18.1" fill="#ef5350"/>
<rect x="597.97" y="76.2" width="2.9" height="7.5" fill="#ef5350"/>
<rect x="602.30" y="79.6" width="1.1" height="21.8" fill="#ef5350"/>
<rect x="601.40" y="82.7" width="2.9" height="14.0" fill="#ef5350"/>
<rect x="605.73" y="93.4" width="1.1" height="16.8" fill="#ef5350"/>
<rect x="604.83" y="95.8" width="2.9" height="13.1" fill="#ef5350"/>
<rect x="609.16" y="99.5" width="1.1" height="28.0" fill="#ef5350"/>
<rect x="608.26" y="106.0" width="2.9" height="20.5" fill="#ef5350"/>
<rect x="612.59" y="104.6" width="1.1" height="17.9" fill="#26a69a"/>
<rect x="611.69" y="105.1" width="2.9" height="16.8" fill="#26a69a"/>
<rect x="616.02" y="99.5" width="1.1" height="12.5" fill="#ef5350"/>
<rect x="615.12" y="103.2" width="2.9" height="8.4" fill="#ef5350"/>
<rect x="619.45" y="129.9" width="1.1" height="20.9" fill="#ef5350"/>
<rect x="618.55" y="129.9" width="2.9" height="20.9" fill="#ef5350"/>
<rect x="622.88" y="131.2" width="1.1" height="36.0" fill="#26a69a"/>
<rect x="621.98" y="142.4" width="2.9" height="9.3" fill="#26a69a"/>
<rect x="626.31" y="121.9" width="1.1" height="21.8" fill="#26a69a"/>
<rect x="625.41" y="128.4" width="2.9" height="14.9" fill="#26a69a"/>
<rect x="629.74" y="113.1" width="1.1" height="13.8" fill="#26a69a"/>
<rect x="628.84" y="113.1" width="2.9" height="13.4" fill="#26a69a"/>
<!-- fib -->
<line x1="133.5" y1="72.6" x2="204.5" y2="412.5" stroke="#787b86" stroke-width="1.1" stroke-opacity="0.9" stroke-dasharray="5 6"/>
<path d="M133.5 72.6H940" stroke="#787b86" stroke-width="1.1"/>
<path d="M132.5 152.6H940" stroke="#f44336" stroke-width="1.1"/>
<path d="M132.5 202.5H940" stroke="#81c784" stroke-width="1.1"/>
<path d="M132.5 242.5H940" stroke="#4caf50" stroke-width="1.1"/>
<path d="M132.5 282.5H940" stroke="#009688" stroke-width="1.1"/>
<path d="M132.5 412.5H940" stroke="#787b86" stroke-width="1.1"/>
</g>
<!-- stoch -->
<rect x="11" y="449.6" width="928.6" height="12" fill="url(#gp)"/>
<path d="M10 449.6H939.6M10 461.6H939.6" stroke="#464054" stroke-width="1.1" stroke-dasharray="5 6"/>
<polyline points="9.5,450.4 12.9,451.1 16.3,456.5 19.8,458.5 23.2,462.4 26.6,462.7 30.0,464.5 33.5,464.5 36.9,462.8 40.3,461.3 43.8,460.4 47.2,461.1 50.6,460.4 54.1,457.5 57.5,455.1 60.9,453.2 64.3,453.9 67.8,452.5 71.2,453.3 74.6,451.2 78.1,451.6 81.5,451.6 84.9,456.1 88.3,460.4 91.8,462.4 95.2,462.2 98.6,461.1 102.1,462.1 105.5,461.4 108.9,458.5 112.4,453.8 115.8,448.8 119.2,451.5 122.7,452.2 126.1,455.6 129.5,452.9 132.9,453.4 136.4,455.6 139.8,459.6 143.2,462.5 146.7,461.1 150.1,458.0 153.5,454.7 157.0,453.7 160.4,453.4 163.8,452.9 167.2,451.5 170.7,448.8 174.1,447.0 177.5,448.1 181.0,451.0 184.4,455.4 187.8,458.4 191.3,461.6 194.7,462.1 198.1,460.6 201.5,457.7 205.0,454.7 208.4,452.9 211.8,452.4 215.3,450.8 218.7,448.2 222.1,445.0 225.6,444.7 229.0,444.5 232.4,444.5 235.8,445.2 239.3,445.2 242.7,445.8 246.1,445.6 249.6,445.6 253.0,446.4 256.4,446.5 259.9,446.5 263.3,445.1 266.7,444.5 270.1,446.0 273.6,446.0 277.0,446.0 280.4,444.5 283.9,444.5 287.3,451.2 290.7,457.8 294.1,463.3 297.6,463.3 301.0,463.3 304.4,464.5 307.9,463.6 311.3,462.3 314.7,460.1 318.2,458.4 321.6,456.2 325.0,454.5 328.4,453.6 331.9,453.7 335.3,452.7 338.7,450.8 342.2,447.7 345.6,446.0 349.0,444.6 352.5,444.6 355.9,444.5 359.3,444.5 362.8,444.5 366.2,444.5 369.6,444.5 373.0,444.5 376.5,444.5 379.9,444.5 383.3,444.5 386.8,445.4 390.2,448.8 393.6,453.0 397.1,455.5 400.5,456.2 403.9,455.8 407.3,458.6 410.8,459.2 414.2,459.7 417.6,456.1 421.1,457.6 424.5,460.0 427.9,463.0 431.4,463.5 434.8,462.7 438.2,462.9 441.6,460.6 445.1,460.3 448.5,459.9 451.9,460.4 455.4,457.9 458.8,455.6 462.2,453.6 465.6,451.5 469.1,451.2 472.5,451.0 475.9,451.2 479.4,448.5 482.8,448.9 486.2,454.4 489.7,458.9 493.1,459.2 496.5,454.7 499.9,451.7 503.4,449.2 506.8,447.0 510.2,446.0 513.7,445.0 517.1,445.0 520.5,444.5 524.0,444.8 527.4,444.8 530.8,446.2 534.3,449.4 537.7,456.1 541.1,459.0 544.5,458.5 548.0,454.1 551.4,451.8 554.8,450.3 558.3,451.9 561.7,454.2 565.1,455.7 568.6,458.6 572.0,460.8 575.4,464.0 578.8,461.9 582.3,459.9 585.7,457.4 589.1,456.7 592.6,455.5 596.0,454.4 599.4,454.0 602.9,454.6 606.3,456.9 609.7,459.6 613.1,459.5 616.6,459.1 620.0,459.6 623.4,461.7 626.9,461.9 630.3,458.9" fill="none" stroke="#2196f3" stroke-width="1.1" stroke-linejoin="round"/>
<polyline points="9.5,448.2 12.9,449.7 16.3,452.7 19.8,455.4 23.2,459.1 26.6,461.2 30.0,463.2 33.5,463.9 36.9,463.9 40.3,462.9 43.8,461.5 47.2,460.9 50.6,460.7 54.1,459.7 57.5,457.7 60.9,455.2 64.3,454.0 67.8,453.2 71.2,453.3 74.6,452.4 78.1,452.1 81.5,451.5 84.9,453.1 88.3,456.1 91.8,459.6 95.2,461.7 98.6,461.9 102.1,461.8 105.5,461.6 108.9,460.7 112.4,457.9 115.8,453.7 119.2,451.3 122.7,450.8 126.1,453.1 129.5,453.5 132.9,454.0 136.4,454.0 139.8,456.2 143.2,459.2 146.7,461.0 150.1,460.5 153.5,457.9 157.0,455.5 160.4,454.0 163.8,453.4 167.2,452.6 170.7,451.1 174.1,449.1 177.5,448.0 181.0,448.7 184.4,451.5 187.8,454.9 191.3,458.5 194.7,460.7 198.1,461.4 201.5,460.1 205.0,457.7 208.4,455.1 211.8,453.4 215.3,452.1 218.7,450.5 222.1,448.0 225.6,446.0 229.0,444.7 232.4,444.6 235.8,444.7 239.3,445.0 242.7,445.4 246.1,445.5 249.6,445.7 253.0,445.9 256.4,446.2 259.9,446.5 263.3,446.0 266.7,445.4 270.1,445.2 273.6,445.5 277.0,446.0 280.4,445.5 283.9,445.0 287.3,446.7 290.7,451.2 294.1,457.4 297.6,461.5 301.0,463.3 304.4,463.7 307.9,463.8 311.3,463.5 314.7,462.0 318.2,460.3 321.6,458.2 325.0,456.3 328.4,454.8 331.9,453.9 335.3,453.3 338.7,452.4 342.2,450.4 345.6,448.2 349.0,446.1 352.5,445.0 355.9,444.5 359.3,444.5 362.8,444.5 366.2,444.5 369.6,444.5 373.0,444.5 376.5,444.5 379.9,444.5 383.3,444.5 386.8,444.8 390.2,446.2 393.6,449.1 397.1,452.5 400.5,454.9 403.9,455.8 407.3,456.9 410.8,457.9 414.2,459.2 417.6,458.3 421.1,457.8 424.5,457.9 427.9,460.2 431.4,462.1 434.8,463.1 438.2,463.0 441.6,462.1 445.1,461.3 448.5,460.3 451.9,460.2 455.4,459.4 458.8,458.0 462.2,455.7 465.6,453.6 469.1,452.1 472.5,451.2 475.9,451.1 479.4,450.2 482.8,449.5 486.2,450.6 489.7,454.1 493.1,457.5 496.5,457.6 499.9,455.2 503.4,451.9 506.8,449.3 510.2,447.4 513.7,446.0 517.1,445.3 520.5,444.8 524.0,444.8 527.4,444.7 530.8,445.3 534.3,446.8 537.7,450.6 541.1,454.8 544.5,457.9 548.0,457.2 551.4,454.8 554.8,452.1 558.3,451.3 561.7,452.2 565.1,453.9 568.6,456.2 572.0,458.4 575.4,461.2 578.8,462.3 582.3,462.0 585.7,459.7 589.1,458.0 592.6,456.6 596.0,455.5 599.4,454.6 602.9,454.3 606.3,455.2 609.7,457.0 613.1,458.7 616.6,459.4 620.0,459.4 623.4,460.1 626.9,461.0 630.3,460.8" fill="none" stroke="#ff6d00" stroke-width="1.1" stroke-linejoin="round"/>
<!-- rsi -->
<rect x="11" y="488.5" width="928.6" height="33" fill="url(#gr)"/>
<path d="M10 488.5H939.6M10 521.4H939.6" stroke="#9a9ca6" stroke-width="1.1" stroke-dasharray="5 6"/>
<polyline points="9.5,490.9 12.9,490.9 16.3,495.8 19.8,493.8 23.2,496.4 26.6,502.4 30.0,505.4 33.5,510.2 36.9,504.2 40.3,505.0 43.8,507.0 47.2,507.0 50.6,503.0 54.1,498.9 57.5,500.5 60.9,500.2 64.3,502.3 67.8,500.5 71.2,504.7 74.6,501.2 78.1,502.8 81.5,503.1 84.9,505.9 88.3,508.9 91.8,507.0 95.2,507.4 98.6,507.4 102.1,508.6 105.5,506.7 108.9,503.9 112.4,502.6 115.8,495.7 119.2,506.3 122.7,500.3 126.1,502.5 129.5,500.9 132.9,501.3 136.4,506.6 139.8,517.0 143.2,513.8 146.7,509.2 150.1,507.4 153.5,503.1 157.0,506.2 160.4,506.3 163.8,504.9 167.2,504.9 170.7,502.5 174.1,499.3 177.5,507.2 181.0,508.6 184.4,510.8 187.8,512.5 191.3,516.2 194.7,511.6 198.1,510.9 201.5,508.6 205.0,504.2 208.4,506.4 211.8,507.3 215.3,500.1 218.7,499.8 222.1,497.0 225.6,494.5 229.0,491.8 232.4,489.5 235.8,492.3 239.3,488.9 242.7,490.9 246.1,490.5 249.6,488.0 253.0,492.1 256.4,489.7 259.9,487.3 263.3,486.7 266.7,485.7 270.1,487.7 273.6,484.5 277.0,484.3 280.4,484.0 283.9,484.0 287.3,493.2 290.7,496.5 294.1,494.2 297.6,501.9 301.0,505.3 304.4,511.1 307.9,507.5 311.3,505.7 314.7,502.1 318.2,500.6 321.6,496.6 325.0,495.2 328.4,497.3 331.9,501.6 335.3,498.8 338.7,497.8 342.2,494.8 345.6,495.0 349.0,493.4 352.5,492.1 355.9,490.2 359.3,488.4 362.8,485.5 366.2,483.1 369.6,480.7 373.0,479.3 376.5,478.1 379.9,476.0 383.3,475.9 386.8,478.4 390.2,485.7 393.6,487.0 397.1,484.1 400.5,484.6 403.9,483.1 407.3,486.2 410.8,483.7 414.2,483.0 417.6,480.2 421.1,486.2 424.5,488.6 427.9,486.6 431.4,500.1 434.8,497.9 438.2,497.6 441.6,493.1 445.1,497.1 448.5,496.4 451.9,494.7 455.4,489.5 458.8,489.4 462.2,488.8 465.6,488.4 469.1,492.1 472.5,492.1 475.9,490.6 479.4,486.8 482.8,492.0 486.2,503.0 489.7,497.9 493.1,495.3 496.5,492.2 499.9,490.5 503.4,489.2 506.8,486.0 510.2,487.3 513.7,485.8 517.1,482.8 520.5,481.0 524.0,481.9 527.4,480.1 530.8,485.2 534.3,489.3 537.7,495.8 541.1,490.4 544.5,487.2 548.0,485.4 551.4,485.0 554.8,483.7 558.3,489.0 561.7,490.5 565.1,487.2 568.6,497.3 572.0,508.9 575.4,507.2 578.8,500.9 582.3,501.2 585.7,497.9 589.1,498.3 592.6,496.5 596.0,493.7 599.4,496.7 602.9,500.2 606.3,503.2 609.7,507.3 613.1,502.5 616.6,504.0 620.0,511.7 623.4,509.8 626.9,506.7 630.3,503.5" fill="none" stroke="#9c27b0" stroke-width="1.3" stroke-linejoin="round"/>
<!-- price label -->
<path d="M940.3 104.9H1001a2 2 0 0 1 2 2V133.9a2 2 0 0 1 -2 2H940.3Z" fill="#26a69a"/>
<!-- ILS box -->
<!-- logo -->
<g fill="#131722">
<path d="M9.9 567.2H19V576.4H14.3V571.6H9.9Z"/>
<circle cx="21.3" cy="568.7" r="1.45"/>
<path d="M24.6 567.2H29.6L26.1 576.4H21.2Z"/>
</g>
</svg>
<div class="wrap">
<div class="t" style="left:9.8px;top:9.0px;font-size:12.3px;color:#131722;transform:scaleX(1.006);">dotanf</div>
<div class="t" style="left:50.4px;top:9.0px;font-size:12.3px;color:#131722;transform:scaleX(0.917);">פורסם ב</div>
<div class="t" style="left:89.9px;top:9.0px;font-size:12.3px;color:#131722;transform:scaleX(0.947);">-<span style="font-size:106%">T</span>rading<span style="font-size:106%">V</span>iew.com,</div>
<div class="t" style="left:192.0px;top:9.0px;font-size:12.3px;color:#131722;transform:scaleX(0.958);">11:45</div>
<div class="t" style="left:225.4px;top:9.0px;font-size:12.3px;color:#131722;transform:scaleX(0.874);">2022</div>
<div class="t" style="left:254.6px;top:9.0px;font-size:12.3px;color:#131722;transform:scaleX(0.888);">,16</div>
<div class="t" style="left:273.8px;top:9.0px;font-size:12.3px;color:#131722;transform:scaleX(0.907);">פברואר</div>
<div class="t" style="left:313.1px;top:9.0px;font-size:12.3px;color:#131722;transform:scaleX(0.815);"><span style="font-size:106%">UTC</span></div>
<div class="t" style="left:17.8px;top:36.0px;font-size:11.6px;color:#131722;transform:scaleX(0.945);">תא נדלן15, 1יום, <span style="font-size:106%">TASE</span></div>
<div class="t" style="left:135.8px;top:36.0px;font-size:11.6px;color:#131722;transform:scaleX(1.003);">פ</div>
<div class="t" style="left:142.5px;top:36.0px;font-size:11.6px;color:#26a69a;transform:scaleX(0.990);">1307.97</div>
<div class="t" style="left:190.8px;top:36.0px;font-size:11.6px;color:#131722;transform:scaleX(1.121);">ג</div>
<div class="t" style="left:197.0px;top:36.0px;font-size:11.6px;color:#26a69a;transform:scaleX(0.985);">1323.99</div>
<div class="t" style="left:245.4px;top:36.0px;font-size:11.6px;color:#131722;transform:scaleX(0.997);">נ</div>
<div class="t" style="left:250.1px;top:36.0px;font-size:11.6px;color:#26a69a;transform:scaleX(0.988);">1307.97</div>
<div class="t" style="left:299.2px;top:36.0px;font-size:11.6px;color:#131722;transform:scaleX(0.999);">ס</div>
<div class="t" style="left:306.7px;top:36.0px;font-size:11.6px;color:#26a69a;transform:scaleX(0.997);">1323.96</div>
<div class="t" style="left:400.5px;top:37.0px;font-size:10.8px;color:#131722;transform:scaleX(0.984);-webkit-text-stroke:0;">בדיקת פריצה</div>
<div class="t" style="left:355.5px;top:36.0px;font-size:11.6px;color:#26a69a;transform:scaleX(0.990);">+19.61 (+1.50%)</div>
<div class="t" style="left:17.8px;top:53.0px;font-size:11.6px;color:#131722;transform:scaleX(0.983);">מחזור (20): ספק הנתונים אינו מספק נתוני נפח עבור סימול זה</div>
<div class="t" style="left:17.8px;top:70.0px;font-size:11.6px;color:#131722;transform:scaleX(1.034);"><span style="font-size:106%">BB</span> (20, close, 2, 0)</div>
<div class="t" style="left:128.5px;top:70.0px;font-size:11.6px;color:#4caf50;transform:scaleX(1.002);">1326.09</div>
<div class="t" style="left:177.5px;top:70.0px;font-size:11.6px;color:#c3c6cf;transform:scaleX(0.986);opacity:.45;">1382.16  1270.01</div>
<div class="t" style="left:17.8px;top:87.0px;font-size:11.6px;color:#131722;transform:scaleX(1.000);"><span style="font-size:106%">EMA</span> (6, close, 0)</div>
<div class="t" style="left:116.0px;top:87.0px;font-size:11.6px;color:#f23645;transform:scaleX(1.028);">1311.90</div>
<div class="t" style="left:17.8px;top:104.0px;font-size:11.6px;color:#131722;transform:scaleX(1.019);"><span style="font-size:106%">MA</span> (13, close, 0)</div>
<div class="t" style="left:116.0px;top:104.0px;font-size:11.6px;color:#2196f3;transform:scaleX(1.007);">1328.04</div>
<div class="t" style="left:17.9px;top:478.0px;font-size:11.6px;color:#2a2e39;transform:scaleX(0.979);"><span style="font-size:106%">RSI</span> (14, close)</div>
<div class="t" style="left:101.8px;top:478.0px;font-size:11.6px;color:#9c27b0;transform:scaleX(1.024);">51.83</div>
<div class="t" style="left:875.1px;top:60.0px;font-size:11.8px;color:#787b86;transform:scaleX(1.001);">0(1373.81)</div>
<div class="t" style="left:850.9px;top:140.0px;font-size:11.8px;color:#f44336;transform:scaleX(1.016);">0.236(1274.52)</div>
<div class="t" style="left:850.4px;top:190.0px;font-size:11.8px;color:#81c784;transform:scaleX(1.022);">0.382(1213.09)</div>
<div class="t" style="left:864.0px;top:230.0px;font-size:11.8px;color:#4caf50;transform:scaleX(1.033);">0.5(1163.44)</div>
<div class="t" style="left:852.0px;top:270.0px;font-size:11.8px;color:#009688;transform:scaleX(1.025);">0.618(1113.79)</div>
<div class="t" style="left:881.5px;top:400.0px;font-size:11.8px;color:#787b86;transform:scaleX(1.004);">1(953.06)</div>
<div class="t" style="left:949.8px;top:46.0px;font-size:11.6px;color:#131722;transform:scaleX(1.014);">1400.00</div>
<div class="t" style="left:949.8px;top:78.0px;font-size:11.6px;color:#131722;transform:scaleX(1.014);">1360.00</div>
<div class="t" style="left:949.8px;top:142.0px;font-size:11.6px;color:#131722;transform:scaleX(1.014);">1280.00</div>
<div class="t" style="left:949.8px;top:174.0px;font-size:11.6px;color:#131722;transform:scaleX(1.014);">1240.00</div>
<div class="t" style="left:949.8px;top:207.0px;font-size:11.6px;color:#131722;transform:scaleX(1.014);">1200.00</div>
<div class="t" style="left:949.8px;top:239.0px;font-size:11.6px;color:#131722;transform:scaleX(1.035);">1160.00</div>
<div class="t" style="left:949.8px;top:271.0px;font-size:11.6px;color:#131722;transform:scaleX(1.035);">1120.00</div>
<div class="t" style="left:949.8px;top:303.0px;font-size:11.6px;color:#131722;transform:scaleX(1.014);">1080.00</div>
<div class="t" style="left:949.8px;top:335.0px;font-size:11.6px;color:#131722;transform:scaleX(1.014);">1040.00</div>
<div class="t" style="left:949.8px;top:368.0px;font-size:11.6px;color:#131722;transform:scaleX(1.014);">1000.00</div>
<div class="t" style="left:949.8px;top:400.0px;font-size:11.6px;color:#131722;transform:scaleX(1.032);">960.00</div>
<div class="t" style="left:949.8px;top:432.0px;font-size:11.6px;color:#131722;transform:scaleX(1.032);height:9.2px;overflow:hidden;">920.00</div>
<div class="t" style="left:949.8px;top:459.0px;font-size:11.6px;color:#131722;transform:scaleX(1.041);height:9.5px;overflow:hidden;">0.00</div>
<div class="t" style="left:949.8px;top:474.0px;font-size:11.6px;color:#131722;transform:scaleX(1.041);">80.00</div>
<div class="t" style="left:949.8px;top:508.0px;font-size:11.6px;color:#131722;transform:scaleX(1.041);">40.00</div>
<div class="t" style="left:949.8px;top:108.0px;font-size:11.8px;color:#ffffff;transform:scaleX(1.003);font-weight:bold;-webkit-text-stroke:0;">1323.96</div>
<div class="t" style="left:949.4px;top:122.0px;font-size:11.8px;color:#ffffff;transform:scaleX(1.039);opacity:.78;">03:54:44</div>
<div class="t" style="left:93.9px;top:535.0px;font-size:11.3px;color:#131722;transform:scaleX(1.061);">יולי</div>
<div class="t" style="left:228.5px;top:535.0px;font-size:11.3px;color:#131722;transform:scaleX(0.990);">ספטמבר</div>
<div class="t" style="left:349.3px;top:535.0px;font-size:11.3px;color:#131722;transform:scaleX(0.978);">נובמבר</div>
<div class="t" style="left:502.4px;top:535.0px;font-size:11.3px;color:#131722;transform:scaleX(1.126);font-weight:bold;-webkit-text-stroke:0;">2022</div>
<div class="t" style="left:650.3px;top:535.0px;font-size:11.3px;color:#131722;transform:scaleX(1.021);">מרץ</div>
<div class="t" style="left:792.1px;top:535.0px;font-size:11.3px;color:#131722;transform:scaleX(1.034);">מאי</div>
<div class="t" style="left:32.8px;top:566.0px;font-size:11.5px;color:#2a2e39;transform:scaleX(1.094);"><span style="font-size:106%">T</span>rading<span style="font-size:106%">V</span>iew</div>
<div class="t" style="left:964px;top:36px;width:21px;height:14px;background:#d2d5dc;"></div>
<div class="t" style="left:966.6px;top:37.6px;font-size:11.4px;letter-spacing:-0.55px;color:#131722;">ILS</div>
</div>
</body>
</html>
